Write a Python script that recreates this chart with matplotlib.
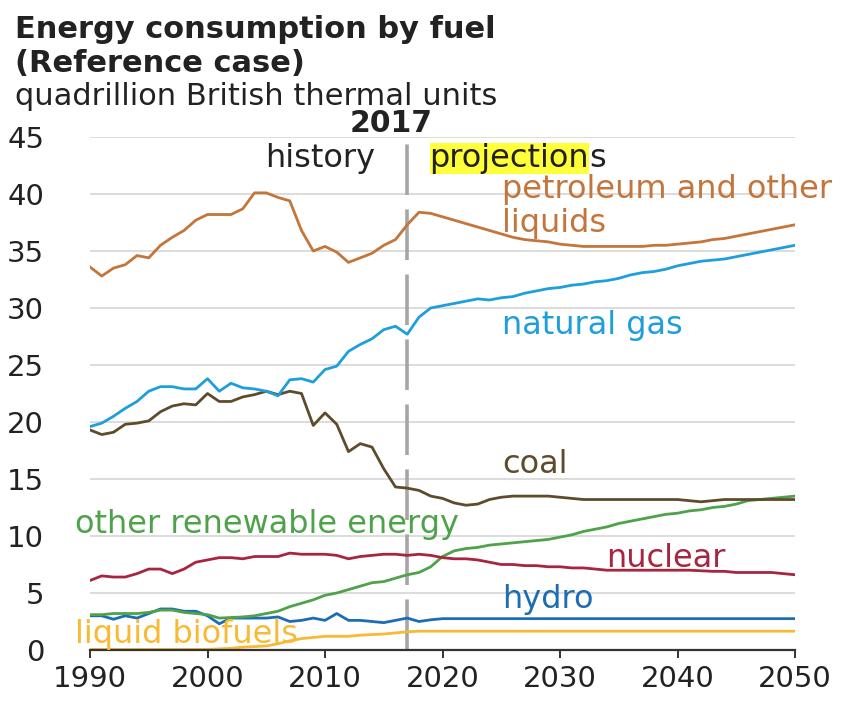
import matplotlib
matplotlib.use("Agg")
import matplotlib.pyplot as plt
import numpy as np

years = list(range(1990, 2051))

petroleum = [33.6, 32.8, 33.5, 33.8, 34.6, 34.4, 35.5, 36.2, 36.8, 37.7,
             38.2, 38.2, 38.2, 38.7, 40.1, 40.1, 39.7, 39.4, 36.8, 35.0,
             35.4, 34.9, 34.0, 34.4, 34.8, 35.5, 36.0, 37.3,
             38.4, 38.3, 38.0, 37.7, 37.4, 37.1, 36.8, 36.5, 36.2, 36.0,
             35.9, 35.8, 35.6, 35.5, 35.4, 35.4, 35.4, 35.4, 35.4, 35.4,
             35.5, 35.5, 35.6, 35.7, 35.8, 36.0, 36.1, 36.3, 36.5, 36.7,
             36.9, 37.1, 37.3]

natural_gas = [19.6, 19.9, 20.5, 21.2, 21.8, 22.7, 23.1, 23.1, 22.9, 22.9,
               23.8, 22.7, 23.4, 23.0, 22.9, 22.7, 22.3, 23.7, 23.8, 23.5,
               24.6, 24.9, 26.2, 26.8, 27.3, 28.1, 28.4, 27.7,
               29.2, 30.0, 30.2, 30.4, 30.6, 30.8, 30.7, 30.9, 31.0, 31.3,
               31.5, 31.7, 31.8, 32.0, 32.1, 32.3, 32.4, 32.6, 32.9, 33.1,
               33.2, 33.4, 33.7, 33.9, 34.1, 34.2, 34.3, 34.5, 34.7, 34.9,
               35.1, 35.3, 35.5]

coal = [19.3, 18.9, 19.1, 19.8, 19.9, 20.1, 20.9, 21.4, 21.6, 21.5,
        22.5, 21.8, 21.8, 22.2, 22.4, 22.7, 22.4, 22.7, 22.5, 19.7,
        20.8, 19.8, 17.4, 18.1, 17.8, 15.9, 14.3, 14.2,
        14.0, 13.5, 13.3, 12.9, 12.7, 12.8, 13.2, 13.4, 13.5, 13.5,
        13.5, 13.5, 13.4, 13.3, 13.2, 13.2, 13.2, 13.2, 13.2, 13.2,
        13.2, 13.2, 13.2, 13.1, 13.0, 13.1, 13.2, 13.2, 13.2, 13.2,
        13.2, 13.2, 13.2]

other_renewable = [3.1, 3.1, 3.2, 3.2, 3.2, 3.3, 3.5, 3.5, 3.3, 3.2,
                   3.1, 2.8, 2.85, 2.9, 3.0, 3.2, 3.4, 3.8, 4.1, 4.4,
                   4.8, 5.0, 5.3, 5.6, 5.9, 6.0, 6.3, 6.6,
                   6.8, 7.3, 8.2, 8.7, 8.9, 9.0, 9.2, 9.3, 9.4, 9.5,
                   9.6, 9.7, 9.9, 10.1, 10.4, 10.6, 10.8, 11.1, 11.3, 11.5,
                   11.7, 11.9, 12.0, 12.2, 12.3, 12.5, 12.6, 12.8, 13.1, 13.2,
                   13.3, 13.4, 13.5]

nuclear = [6.1, 6.5, 6.4, 6.4, 6.7, 7.1, 7.1, 6.7, 7.1, 7.7,
           7.9, 8.1, 8.1, 8.0, 8.2, 8.2, 8.2, 8.5, 8.4, 8.4,
           8.4, 8.3, 8.0, 8.2, 8.3, 8.4, 8.4, 8.3,
           8.4, 8.3, 8.1, 8.0, 8.0, 7.9, 7.7, 7.5, 7.5, 7.4,
           7.4, 7.3, 7.3, 7.2, 7.2, 7.1, 7.0, 7.0, 7.0, 7.0,
           7.0, 7.0, 7.0, 7.0, 6.95, 6.9, 6.9, 6.8, 6.8, 6.8,
           6.8, 6.7, 6.6]

hydro = [3.0, 3.0, 2.7, 3.0, 2.8, 3.2, 3.6, 3.6, 3.4, 3.4,
         3.0, 2.3, 2.8, 2.8, 2.8, 2.8, 2.9, 2.5, 2.6, 2.8,
         2.6, 3.2, 2.6, 2.6, 2.5, 2.4, 2.6, 2.8,
         2.5, 2.65, 2.75, 2.75, 2.75, 2.75, 2.75, 2.75, 2.75, 2.75,
         2.75, 2.75, 2.75, 2.75, 2.75, 2.75, 2.75, 2.75, 2.75, 2.75,
         2.75, 2.75, 2.75, 2.75, 2.75, 2.75, 2.75, 2.75, 2.75, 2.75,
         2.75, 2.75, 2.75]

liquid_biofuels = [0.05, 0.05, 0.05, 0.05, 0.05, 0.05, 0.05, 0.05, 0.05, 0.05,
                   0.05, 0.1, 0.15, 0.25, 0.3, 0.35, 0.55, 0.8, 1.0, 1.1,
                   1.2, 1.2, 1.2, 1.3, 1.35, 1.4, 1.5, 1.6,
                   1.65, 1.65, 1.65, 1.65, 1.65, 1.65, 1.65, 1.65, 1.65, 1.65,
                   1.65, 1.65, 1.65, 1.65, 1.65, 1.65, 1.65, 1.65, 1.65, 1.65,
                   1.65, 1.65, 1.65, 1.65, 1.65, 1.65, 1.65, 1.65, 1.65, 1.65,
                   1.65, 1.65, 1.65]

x_ticks = [1990, 2000, 2010, 2020, 2030, 2040, 2050]
y_ticks = [0, 5, 10, 15, 20, 25, 30, 35, 40, 45]
split_year = 2017

C_PET = "#C4753B"
C_GAS = "#1E9FDB"
C_COAL = "#5E4B2B"
C_REN = "#4EA24A"
C_NUC = "#A8253F"
C_HYD = "#1C6DB3"
C_BIO = "#F8BA34"

plt.rcParams['font.family'] = ['DejaVu Sans']

fig = plt.figure(figsize=(8.44, 7.01), dpi=100)
ax = fig.add_axes([90/844, 51/701, 705/844, 513/701])

LW = 2.0
series = [
    (liquid_biofuels, C_BIO),
    (hydro, C_HYD),
    (other_renewable, C_REN),
    (nuclear, C_NUC),
    (coal, C_COAL),
    (natural_gas, C_GAS),
    (petroleum, C_PET),
]
for vals, col in series:
    ax.plot(years, vals, color=col, lw=LW, solid_joinstyle='round', zorder=3)

ax.set_xlim(1990, 2050)
ax.set_ylim(0, 45)
ax.set_xticks(x_ticks)
ax.set_yticks(y_ticks)
ax.tick_params(axis='x', direction='out', length=6, width=1.4, color='#333333',
               labelsize=21, labelcolor='#222222', pad=5)
ax.tick_params(axis='y', length=0, labelsize=21, labelcolor='#222222', pad=33)
for t in ax.get_yticklabels():
    t.set_horizontalalignment('right')

for s in ['top', 'right', 'left']:
    ax.spines[s].set_visible(False)
ax.spines['bottom'].set_color('#333333')
ax.spines['bottom'].set_linewidth(1.6)
ax.spines['bottom'].set_zorder(5)

ax.yaxis.grid(True, color='#D9D9D9', lw=1.3)
ax.set_axisbelow(True)

ax.axvline(split_year, color='#A6A6A6', lw=2.6, dashes=(14, 4), zorder=2)

fs = 23
ax.text(2015.6, 45.4, "2017", fontsize=21.5, fontweight='bold', color='#222222',
        ha='center', va='baseline', clip_on=False)
ax.text(2004.9, 42.4, "history", fontsize=fs, color='#222222', va='baseline')
t1 = ax.text(2018.9, 42.4, "projection", fontsize=fs, color='#222222', va='baseline',
             bbox=dict(facecolor='#FFFF3A', edgecolor='none', pad=0.0))
ax.annotate("s", xy=(1, 0), xycoords=t1, xytext=(0, 0), textcoords='offset points',
            fontsize=fs, color='#222222', va='bottom', ha='left')

ax.text(2025.1, 39.65, "petroleum and other", fontsize=fs, color=C_PET, va='baseline')
ax.text(2025.1, 36.7, "liquids", fontsize=fs, color=C_PET, va='baseline')
ax.text(2025.1, 27.7, "natural gas", fontsize=fs, color=C_GAS, va='baseline')
ax.text(2025.1, 15.55, "coal", fontsize=fs, color=C_COAL, va='baseline')
ax.text(1988.7, 10.3, "other renewable energy", fontsize=fs, color=C_REN, va='baseline',
        clip_on=False)
ax.text(2033.9, 7.3, "nuclear", fontsize=fs, color=C_NUC, va='baseline')
ax.text(2025.1, 3.7, "hydro", fontsize=fs, color=C_HYD, va='baseline')
ax.text(1988.7, 0.6, "liquid biofuels", fontsize=fs, color=C_BIO, va='baseline',
        clip_on=False, zorder=6)

fig.text(15/844, 1 - 38/701, "Energy consumption by fuel", fontsize=22, fontweight='bold',
         color='#222222', va='baseline')
fig.text(15/844, 1 - 72/701, "(Reference case)", fontsize=22, fontweight='bold',
         color='#222222', va='baseline')
fig.text(15/844, 1 - 105/701, "quadrillion British thermal units", fontsize=22,
         color='#222222', va='baseline')

fig.savefig("out.png", dpi=100)
